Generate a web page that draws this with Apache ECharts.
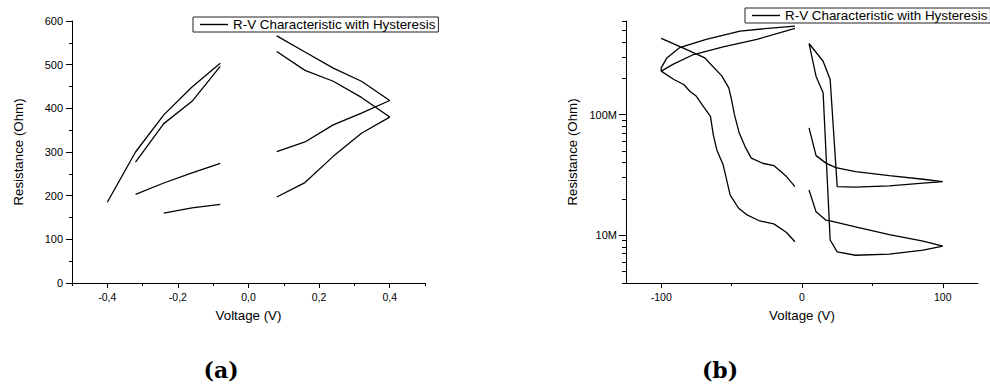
<!DOCTYPE html>
<html><head><meta charset="utf-8">
<script src="https://cdn.jsdelivr.net/npm/echarts@6/dist/echarts.min.js"></script>
<style>html,body{margin:0;padding:0;background:#fff}#c{width:990px;height:387px}</style>
</head><body><div id="c"></div>
<script>
const seriesName = 'R-V Characteristic with Hysteresis';

// ---- panel (a): voltage (V) and resistance (Ohm); null = gap between sweeps
const voltageA = [-0.4,-0.32,-0.24,-0.16,-0.08, null,
  -0.32,-0.24,-0.16,-0.08, null,
  -0.32,-0.24,-0.16,-0.08, null,
  -0.24,-0.16,-0.08, null,
  0.08,0.16,0.24,0.32,0.4,0.32,0.24,0.16,0.08, null,
  0.08,0.16,0.24,0.32,0.4,0.32,0.24,0.16,0.08];
const resistanceA = [185,300,385,449,503, null,
  277,365,416,496, null,
  203,229,252,274, null,
  160,172,180, null,
  301,323,362,389,418,462,492,529,566, null,
  197,230,290,343,380,425,462,487,530];
const xTickValuesA = [-0.4,-0.2,0,0.2,0.4];
const xMinorTickValuesA = [-0.5,-0.3,-0.1,0.1,0.3,0.5];

// ---- panel (b)
const voltageB = [
  -5,-20,-44,-68,-87,-96,-100,-100,-91,-77,-56,-32,-5, null,
  -100,-85,-69,-57,-52,-50,-48,-44.5,-40,-36,-28,-20,-11,-5, null,
  -100,-91,-84,-79.5,-75,-71,-65,-63,-60.5,-56,-51,-45,-39,-30,-20,-11,-5, null,
  5,10,15,20,25,38,62,86,100,86,62,38,20,17,10,5, null,
  5,15,20,25,38,62,86,100,86,62,38,24,17,10,5];
const resistanceB = [
  5.45e8,5.27e8,4.94e8,4.22e8,3.6e8,2.96e8,2.45e8,2.3e8,2.64e8,3.16e8,3.66e8,4.22e8,5.21e8, null,
  4.3e8,3.6e8,2.96e8,2.1e8,1.67e8,1.33e8,1.0e8,7.0e7,5.3e7,4.36e7,3.95e7,3.78e7,3.06e7,2.53e7, null,
  2.3e8,1.96e8,1.78e8,1.56e8,1.42e8,1.21e8,9.7e7,6.8e7,5.1e7,3.83e7,2.15e7,1.67e7,1.47e7,1.31e7,1.24e7,1.05e7,8.8e6, null,
  3.9e8,2.08e8,1.52e8,9.1e6,7.26e6,6.8e6,6.95e6,7.5e6,8.1e6,8.9e6,1.01e7,1.17e7,1.31e7,1.33e7,1.56e7,2.37e7, null,
  3.9e8,2.78e8,1.96e8,2.53e7,2.5e7,2.56e7,2.7e7,2.78e7,2.91e7,3.12e7,3.37e7,3.64e7,3.96e7,4.57e7,7.76e7];
const xTickValuesB = [-100,0,100];
const xMinorTickValuesB = [-50,50];
const yTickValuesB = [1e7,1e8];
const yMinorTickValuesB = [4e6,5e6,6e6,7e6,8e6,9e6,2e7,3e7,4e7,5e7,6e7,7e7,8e7,9e7,2e8,3e8,4e8,5e8,6e8];

function pairs(xs, ys){ return xs.map((x,i)=> x===null ? ['-','-'] : [x, ys[i]]); }

const FONT = "'Liberation Sans', Arial, sans-serif";
const black = '#000';
const lineCommon = {lineStyle:{color:black,width:1}};
const legendCommon = {data:[seriesName],orient:'horizontal',borderColor:'#222',borderWidth:1,borderRadius:0,
  icon:'rect',itemStyle:{color:black},padding:[1,3,1,7],itemWidth:28,itemHeight:1.4,
  textStyle:{fontFamily:FONT,fontSize:13.4,color:black},selectedMode:false};

const chart = echarts.init(document.getElementById('c'), null, {renderer:'svg'});
chart.setOption({
  animation:false,
  backgroundColor:'#fff',
  textStyle:{fontFamily:FONT,color:black},
  title:[
    {text:'(a)',left:216,top:354,textAlign:'center',textStyle:{fontFamily:"'DejaVu Serif', serif",fontWeight:'bold',fontSize:22,color:black}},
    {text:'(b)',left:715,top:354,textAlign:'center',textStyle:{fontFamily:"'DejaVu Serif', serif",fontWeight:'bold',fontSize:22,color:black}}
  ],
  legend:[
    Object.assign({left:193,top:17}, legendCommon),
    Object.assign({left:745,top:8}, legendCommon)
  ],
  grid:[
    {left:72,top:21,width:353,height:262,containLabel:false},
    {left:626,top:21,width:352,height:262,containLabel:false}
  ],
  xAxis:[
    {type:'value',gridIndex:0,min:-0.5,max:0.5,position:'bottom',
     name:'Voltage (V)',nameLocation:'middle',nameGap:26,nameTextStyle:{fontSize:13.3,color:black,fontFamily:FONT},
     axisLine:{onZero:false,...lineCommon},
     axisTick:{show:true,customValues:xTickValuesA,length:5,lineStyle:{color:black}},
     axisLabel:{customValues:xTickValuesA,fontSize:10.5,color:black,margin:8,fontFamily:FONT,
       formatter:v=>v.toFixed(1).replace('.',',')},
     splitLine:{show:false}},
    {type:'value',gridIndex:0,min:-0.5,max:0.5,position:'bottom',
     axisLine:{show:false,onZero:false},
     axisTick:{show:true,customValues:xMinorTickValuesA,length:3,lineStyle:{color:black}},
     axisLabel:{show:false},splitLine:{show:false}},
    {type:'value',gridIndex:1,min:-125,max:125,position:'bottom',
     name:'Voltage (V)',nameLocation:'middle',nameGap:26,nameTextStyle:{fontSize:13.3,color:black,fontFamily:FONT},
     axisLine:{onZero:false,...lineCommon},
     axisTick:{show:true,customValues:xTickValuesB,length:5,lineStyle:{color:black}},
     axisLabel:{customValues:xTickValuesB,fontSize:10.5,color:black,margin:8,fontFamily:FONT},
     splitLine:{show:false}},
    {type:'value',gridIndex:1,min:-125,max:125,position:'bottom',
     axisLine:{show:false,onZero:false},
     axisTick:{show:true,customValues:xMinorTickValuesB,length:3,lineStyle:{color:black}},
     axisLabel:{show:false},splitLine:{show:false}}
  ],
  yAxis:[
    {type:'value',gridIndex:0,min:0,max:600,interval:100,position:'left',
     name:'Resistance (Ohm)',nameLocation:'middle',nameGap:47,nameTextStyle:{fontSize:13.3,color:black,fontFamily:FONT},
     axisLine:{show:true,onZero:false,...lineCommon},
     axisTick:{show:true,length:6,lineStyle:{color:black}},
     minorTick:{show:true,splitNumber:2,length:3,lineStyle:{color:black}},
     axisLabel:{fontSize:11,color:black,margin:9,fontFamily:FONT},
     splitLine:{show:false},minorSplitLine:{show:false}},
    {type:'log',logBase:10,gridIndex:1,min:4e6,max:6e8,position:'left',
     name:'Resistance (Ohm)',nameLocation:'middle',nameGap:47,nameTextStyle:{fontSize:13.3,color:black,fontFamily:FONT},
     axisLine:{show:true,onZero:false,...lineCommon},
     axisTick:{show:true,customValues:yTickValuesB,length:7,lineStyle:{color:black}},
     axisLabel:{customValues:yTickValuesB,fontSize:11,color:black,margin:9,fontFamily:FONT,
       formatter:v=> (Math.round(v/1e6)) + 'M'},
     splitLine:{show:false},minorTick:{show:false}},
    {type:'log',logBase:10,gridIndex:1,min:4e6,max:6e8,position:'left',offset:0,
     axisLine:{show:false,onZero:false},
     axisTick:{show:true,customValues:yMinorTickValuesB,length:4,lineStyle:{color:black}},
     axisLabel:{show:false},splitLine:{show:false},minorTick:{show:false}}
  ],
  series:[
    {name:seriesName,type:'line',xAxisIndex:0,yAxisIndex:0,data:pairs(voltageA,resistanceA),
     symbol:'none',showSymbol:false,connectNulls:false,lineStyle:{color:black,width:1.3},itemStyle:{color:black}},
    {name:seriesName,type:'line',xAxisIndex:2,yAxisIndex:1,data:pairs(voltageB,resistanceB),
     symbol:'none',showSymbol:false,connectNulls:false,lineStyle:{color:black,width:1.3},itemStyle:{color:black}}
  ]
});
</script></body></html>
